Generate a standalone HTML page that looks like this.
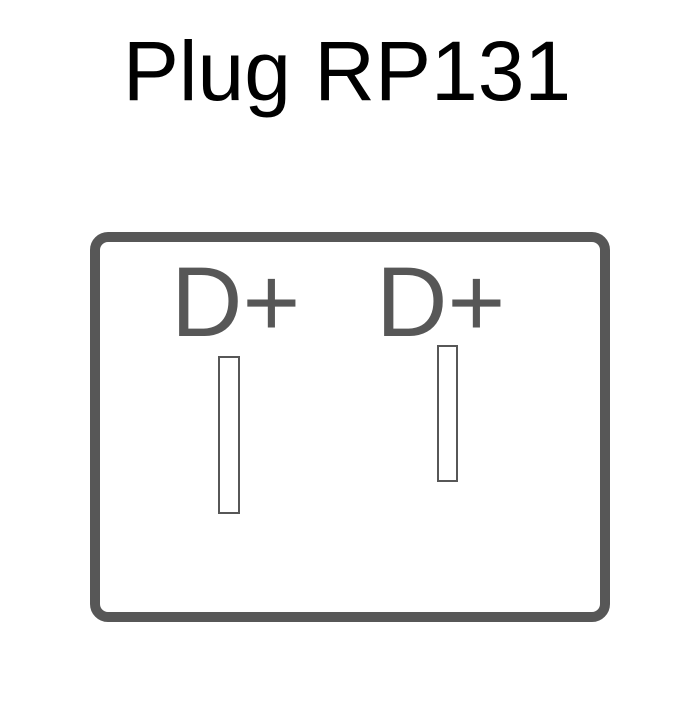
<!DOCTYPE html>
<html><head><style>
body{margin:0;background:#fff;width:700px;height:700px;overflow:hidden}
</style></head><body>
<svg width="700" height="700" xmlns="http://www.w3.org/2000/svg">
<text x="347" y="100" text-anchor="middle" font-family="Liberation Sans, sans-serif" font-size="84" fill="#000">Plug RP131</text>
<rect x="95" y="237" width="510" height="380" rx="13" fill="none" stroke="#575757" stroke-width="10"/>
<text x="171" y="336" font-family="Liberation Sans, sans-serif" font-size="99" fill="#575757">D+</text>
<text x="376" y="336" font-family="Liberation Sans, sans-serif" font-size="99" fill="#575757">D+</text>
<rect x="219" y="357" width="20" height="156" fill="none" stroke="#575757" stroke-width="2"/>
<rect x="438" y="346" width="19" height="135" fill="none" stroke="#575757" stroke-width="2"/>
</svg>
</body></html>
